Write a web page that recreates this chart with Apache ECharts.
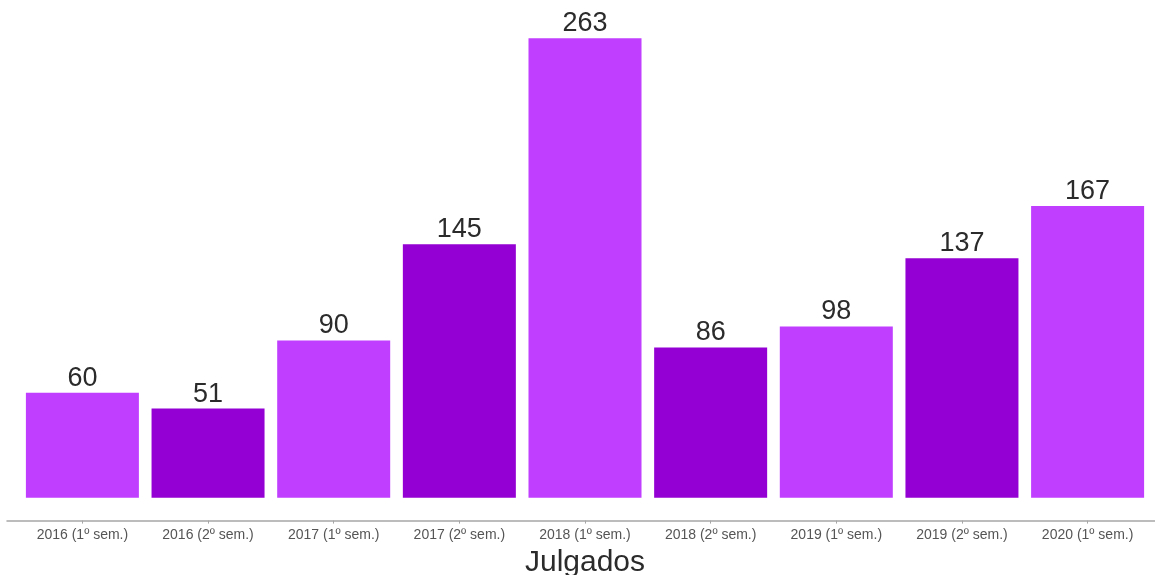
<!DOCTYPE html>
<html>
<head>
<meta charset="utf-8">
<script src="https://cdn.jsdelivr.net/npm/echarts@6/dist/echarts.min.js"></script>
<style>
html,body{margin:0;padding:0;background:#fff;}
#chart{width:1155px;height:575px;}
</style>
</head>
<body>
<div id="chart"></div>
<script>
var categories = ["2016 (1º sem.)","2016 (2º sem.)","2017 (1º sem.)","2017 (2º sem.)","2018 (1º sem.)","2018 (2º sem.)","2019 (1º sem.)","2019 (2º sem.)","2020 (1º sem.)"];
var values = [60, 51, 90, 145, 263, 86, 98, 137, 167];
var colors = ["#BF3EFF", "#9400D3"];
var axisTitle = "Julgados";

var positions = categories.map(function(_, i){ return i + 1; });
var seriesData = values.map(function(v, i){ return [positions[i], v]; });

var chart = echarts.init(document.getElementById('chart'));
chart.setOption({
  animation: false,
  backgroundColor: '#ffffff',
  grid: { left: 7, top: 15.3, width: 1156, height: 505.3, containLabel: false, outerBoundsMode: 'none' },
  xAxis: {
    type: 'value',
    min: 0.4,
    max: 9.6,
    splitLine: { show: false },
    axisLine: { show: true, onZero: false, lineStyle: { color: '#a6a6a6', width: 1.5 } },
    axisTick: { show: true, length: 3, customValues: positions, lineStyle: { color: '#a6a6a6' } },
    axisLabel: {
      customValues: positions,
      margin: 8,
      fontFamily: 'Liberation Sans, Arial, sans-serif',
      fontSize: 14,
      color: '#555555',
      formatter: function(v){ return categories[Math.round(v) - 1] || ''; }
    },
    name: axisTitle,
    nameLocation: 'middle',
    nameGap: 25,
    nameTextStyle: { fontFamily: 'Liberation Sans, Arial, sans-serif', fontSize: 30, color: '#2b2b2b' }
  },
  yAxis: {
    type: 'value',
    min: -13.15,
    max: 276.15,
    show: false,
    splitLine: { show: false }
  },
  series: [{
    type: 'bar',
    data: seriesData,
    barWidth: 113,
    itemStyle: {
      color: function(p){ return colors[p.dataIndex % 2]; }
    },
    label: {
      show: true,
      position: 'top',
      distance: 1,
      fontFamily: 'Liberation Sans, Arial, sans-serif',
      fontSize: 27,
      color: '#2b2b2b',
      formatter: function(p){ return p.value[1]; }
    }
  }]
});
</script>
</body>
</html>
